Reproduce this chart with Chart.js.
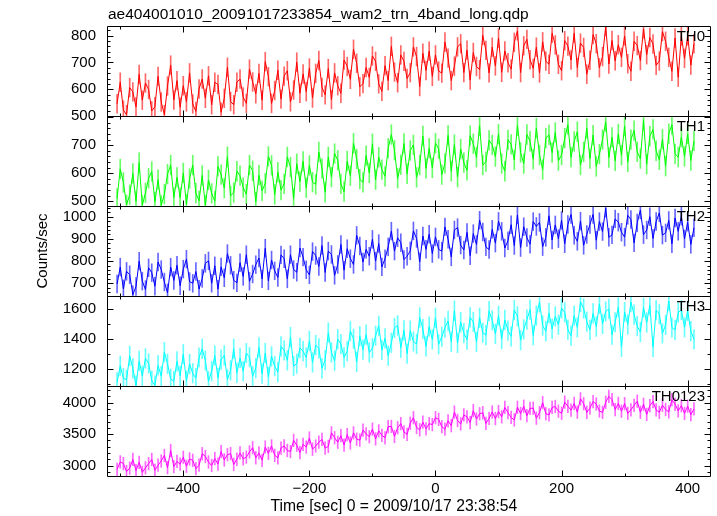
<!DOCTYPE html>
<html>
<head>
<meta charset="utf-8">
<script src="https://cdn.jsdelivr.net/npm/chart.js@4.4.0/dist/chart.umd.min.js"></script>
<style>
  html, body { margin: 0; padding: 0; background: #fff; }
</style>
</head>
<body>
<canvas id="lc" width="717" height="516"></canvas>
<script>
// light curve, 4 bands + sum, 5 s bins
const title = 'ae404001010_20091017233854_wam2_trn_4band_long.qdp';
const xTitle = 'Time [sec] 0 = 2009/10/17 23:38:54';
const yTitle = 'Counts/sec';
const bands = ['TH0', 'TH1', 'TH2', 'TH3', 'TH0123'];
const colors = ['#ff0000', '#00ff00', '#0000ff', '#00ffff', '#ff00ff'];
const barColors = ['rgba(255,0,0,0.6)', 'rgba(0,255,0,0.6)', 'rgba(0,0,255,0.6)', 'rgba(0,255,255,0.6)', 'rgba(255,0,255,0.6)'];
const tStart = -505, tStep = 5;

const th0 = [
  546, 626, 522, 505, 606, 590, 534, 655, 559, 623, 599, 519, 535, 648, 552, 505, 612, 690, 560, 632,
  533, 613, 553, 661, 545, 517, 601, 638, 566, 650, 542, 626, 618, 514, 566, 682, 554, 542, 626, 638,
  571, 547, 675, 627, 583, 659, 559, 703, 647, 547, 595, 671, 563, 649, 669, 553, 597, 701, 585, 657,
  591, 679, 567, 659, 707, 607, 579, 677, 561, 661, 613, 585, 709, 685, 637, 749, 697, 609, 621, 681,
  644, 724, 704, 620, 592, 688, 632, 760, 664, 624, 728, 704, 640, 662, 758, 722, 610, 734, 670, 742,
  648, 728, 668, 660, 776, 716, 632, 686, 758, 770, 662, 746, 634, 737, 685, 673, 801, 745, 661, 757,
  687, 791, 663, 743, 699, 675, 775, 818, 662, 762, 786, 710, 678, 757, 661, 777, 705, 693, 809, 765,
  693, 669, 781, 761, 709, 809, 681, 772, 756, 656, 708, 804, 770, 680, 722, 834, 694, 782, 706, 766,
  719, 799, 695, 667, 779, 763, 707, 825, 729, 793, 769, 689, 705, 815, 779, 719, 667, 791, 645, 799,
  715, 800, 690, 770
];
const th1 = [
  510, 615, 567, 487, 523, 599, 499, 638, 485, 530, 582, 606, 498, 577, 485, 525, 597, 629, 513, 585,
  513, 601, 489, 581, 629, 529, 501, 592, 485, 576, 528, 500, 624, 595, 547, 659, 519, 531, 607, 591,
  549, 525, 629, 609, 497, 593, 537, 564, 660, 628, 524, 604, 540, 562, 658, 622, 510, 634, 570, 642,
  548, 628, 568, 560, 676, 616, 532, 658, 586, 670, 646, 562, 534, 643, 591, 707, 651, 579, 567, 663,
  601, 705, 577, 657, 613, 589, 689, 738, 682, 582, 630, 706, 598, 681, 701, 585, 629, 733, 617, 689,
  619, 707, 687, 595, 635, 735, 607, 702, 586, 686, 638, 610, 734, 705, 657, 769, 629, 641, 717, 701,
  659, 739, 635, 607, 719, 703, 647, 770, 674, 634, 738, 714, 650, 761, 665, 613, 725, 737, 673, 745,
  645, 665, 725, 773, 657, 713, 748, 629, 676, 760, 652, 736, 624, 668, 720, 784, 656, 728, 644, 740,
  664, 768, 640, 720, 752, 676, 652, 788, 632, 732, 756, 680, 648, 721, 625, 741, 773, 669, 657, 729,
  660, 740, 645, 715
];
const th2 = [
  697, 773, 675, 754, 739, 649, 686, 800, 710, 672, 770, 748, 687, 796, 762, 706, 657, 773, 713, 781,
  689, 764, 809, 708, 700, 753, 674, 722, 790, 801, 700, 779, 674, 774, 725, 834, 781, 714, 702, 793,
  731, 829, 709, 742, 784, 814, 720, 858, 711, 805, 756, 726, 828, 811, 720, 829, 762, 750, 859, 818,
  761, 738, 843, 825, 776, 870, 749, 845, 830, 736, 785, 875, 759, 856, 811, 785, 916, 868, 796, 853,
  822, 898, 800, 879, 774, 811, 864, 935, 845, 905, 883, 807, 822, 846, 936, 902, 797, 913, 853, 921,
  834, 909, 853, 845, 954, 898, 819, 940, 951, 872, 850, 929, 824, 924, 875, 984, 931, 864, 852, 943,
  881, 979, 934, 859, 892, 964, 870, 1008, 861, 955, 906, 876, 978, 956, 974, 865, 907, 1004, 895, 963,
  901, 983, 878, 965, 1010, 916, 889, 980, 871, 920, 965, 1010, 894, 978, 933, 1038, 907, 918, 990, 975,
  930, 908, 1006, 987, 882, 972, 1030, 919, 940, 1000, 902, 978, 1017, 917, 927, 983, 878, 994, 934, 1002,
  900, 975, 875, 950
];
const th3 = [
  1113, 1224, 1141, 1130, 1290, 1207, 1091, 1256, 1157, 1273, 1240, 1124, 1092, 1226, 1154, 1314, 1237, 1137, 1121, 1253,
  1157, 1301, 1124, 1235, 1174, 1141, 1279, 1336, 1259, 1121, 1187, 1292, 1143, 1265, 1293, 1133, 1193, 1337, 1177, 1276,
  1188, 1308, 1281, 1154, 1209, 1347, 1171, 1309, 1149, 1287, 1221, 1182, 1353, 1327, 1260, 1415, 1222, 1238, 1343, 1321,
  1279, 1389, 1246, 1362, 1340, 1207, 1262, 1445, 1313, 1258, 1401, 1368, 1280, 1321, 1454, 1404, 1250, 1421, 1332, 1432,
  1313, 1341, 1424, 1490, 1330, 1407, 1291, 1377, 1476, 1493, 1344, 1460, 1305, 1458, 1386, 1369, 1546, 1469, 1353, 1485,
  1400, 1544, 1367, 1417, 1478, 1522, 1384, 1591, 1376, 1514, 1442, 1398, 1547, 1516, 1384, 1544, 1444, 1428, 1588, 1527,
  1437, 1557, 1403, 1530, 1458, 1420, 1596, 1554, 1394, 1466, 1532, 1598, 1427, 1559, 1647, 1492, 1454, 1575, 1470, 1553,
  1497, 1607, 1580, 1464, 1425, 1558, 1480, 1650, 1606, 1518, 1463, 1573, 1485, 1636, 1503, 1586, 1603, 1432, 1514, 1614,
  1350, 1582, 1499, 1648, 1565, 1488, 1449, 1611, 1512, 1628, 1350, 1595, 1568, 1440, 1496, 1656, 1479, 1463, 1579, 1595,
  1480, 1590, 1455, 1400
];
const th0123 = [
  2940, 3060, 3033, 2906, 2961, 3099, 2923, 3054, 2894, 2966, 3032, 3098, 2927, 3007, 3074, 3162, 2969, 3240, 2985, 3068,
  3024, 3134, 2991, 3107, 3085, 2952, 3007, 3190, 3146, 3058, 3003, 3113, 3025, 3224, 3091, 3174, 3191, 3020, 3102, 3202,
  3108, 3136, 3219, 3285, 3125, 3202, 3086, 3296, 3197, 3313, 3164, 3125, 3280, 3313, 3241, 3224, 3401, 3324, 3208, 3340,
  3295, 3439, 3262, 3312, 3373, 3417, 3279, 3306, 3521, 3444, 3372, 3477, 3328, 3493, 3361, 3521, 3421, 3405, 3565, 3504,
  3460, 3580, 3426, 3553, 3481, 3443, 3619, 3624, 3464, 3602, 3668, 3536, 3497, 3674, 3762, 3607, 3569, 3690, 3585, 3668,
  3652, 3762, 3735, 3619, 3580, 3713, 3635, 3850, 3718, 3663, 3806, 3773, 3685, 3874, 3741, 3824, 3841, 3670, 3752, 3852,
  3748, 3859, 3776, 3925, 3842, 3765, 3726, 3926, 3827, 3943, 3794, 3910, 3913, 3755, 3841, 4001, 3824, 3808, 3924, 3940,
  3865, 3832, 4009, 3943, 3882, 3987, 3849, 4061, 3984, 3846, 3912, 4017, 3978, 3868, 3846, 4006, 4100, 4050, 3890, 3989,
  3865, 3985, 3831, 3886, 3958, 4024, 3848, 3974, 3814, 3952, 4018, 3886, 3847, 3959, 3892, 3854, 4047, 3975, 3870, 3953,
  3830, 3945, 3810, 3900
];
// 1-sigma error per bin, one value per band
const errs = [35, 35, 40, 65, 100];

// panel axes
const yMin = [500, 483, 643, 1089, 2836];
const yMax = [836, 804, 1048, 1689, 4265];
const yLabels = [[500, 600, 700, 800], [500, 600, 700], [700, 800, 900, 1000], [1200, 1400, 1600], [3000, 3500, 4000]];
const yMajor = [100, 100, 100, 200, 500];
const yMinor = [20, 20, 20, 100, 100];
const xMin = -521, xMax = 437;
const xLabels = [-400, -200, 0, 200, 400];
const xMajor = 200, xMinor = 100;

const FONT = "'Liberation Sans', Arial, Helvetica, sans-serif";
Chart.defaults.font.family = FONT;
Chart.defaults.font.size = 15;
Chart.defaults.color = '#000';

const series = [th0, th1, th2, th3, th0123];
const ids = bands.map((b, i) => 'y' + i);

const scales = {
  x: {
    type: 'linear', position: 'bottom', min: xMin, max: xMax, offset: false,
    grid: { display: false, drawTicks: false, offset: false },
    border: { display: false },
    afterBuildTicks: s => { s.ticks = xLabels.map(v => ({ value: v })); },
    ticks: { padding: 4, maxRotation: 0, autoSkip: false,
             callback: v => String(v).replace('-', '\u2212') },
    title: { display: false },
    afterFit: s => { s.height = 40; }
  }
};
// last one defined ends up on top of the stack
for (let i = bands.length - 1; i >= 0; i--) {
  const labels = yLabels[i];
  scales[ids[i]] = {
    type: 'linear', position: 'left', stack: 'panels', stackWeight: 1,
    min: yMin[i], max: yMax[i],
    grid: { display: false, drawTicks: false },
    border: { display: false },
    afterBuildTicks: s => { s.ticks = labels.map(v => ({ value: v })); },
    ticks: { padding: 11, autoSkip: false, callback: v => String(v) },
    title: { display: i === 2, text: yTitle, padding: { top: 34, bottom: 0 } },
    afterFit: s => { s.width = 107; }
  };
}

const panelFrames = {
  id: 'panelFrames',
  afterDatasetsDraw(chart) {
    const { ctx, chartArea: a, scales: sc } = chart;
    const xs = sc.x;
    const L = Math.round(a.left) + 0.5, R = Math.round(a.right) - 0.5;
    ctx.save();
    ctx.strokeStyle = '#000';
    ctx.lineWidth = 1;
    ctx.fillStyle = '#000';
    ctx.font = '15px ' + FONT;
    ids.forEach((id, i) => {
      const s = sc[id];
      const T = Math.round(s.top) + 0.5, B = Math.round(s.bottom) + 0.5;
      ctx.beginPath();
      ctx.rect(L, T, R - L, B - T);
      for (let v = Math.ceil(yMin[i] / yMinor[i]) * yMinor[i]; v <= yMax[i]; v += yMinor[i]) {
        const y = Math.round(s.getPixelForValue(v)) + 0.5;
        const len = v % yMajor[i] === 0 ? 6 : 3;
        ctx.moveTo(L, y); ctx.lineTo(L + len, y);
        ctx.moveTo(R, y); ctx.lineTo(R - len, y);
      }
      for (let v = Math.ceil(xMin / xMinor) * xMinor; v <= xMax; v += xMinor) {
        const x = Math.round(xs.getPixelForValue(v)) + 0.5;
        const len = v % xMajor === 0 ? 6 : 3;
        ctx.moveTo(x, T); ctx.lineTo(x, T + len);
        ctx.moveTo(x, B); ctx.lineTo(x, B - len);
      }
      ctx.stroke();
      ctx.textAlign = 'right';
      ctx.textBaseline = 'middle';
      ctx.fillText(bands[i], a.right - 6, s.top + 11);
    });
    // plot title and x-axis caption
    ctx.font = '15.5px ' + FONT;
    ctx.textAlign = 'left';
    ctx.textBaseline = 'alphabetic';
    ctx.fillText(title, a.left + 1, 19);
    ctx.font = '15.7px ' + FONT;
    ctx.textAlign = 'center';
    ctx.textBaseline = 'middle';
    ctx.fillText(xTitle, a.left + (a.right - a.left) * 0.475, 507);
    ctx.restore();
  }
};

const datasets = [];
series.forEach((arr, i) => {
  const times = arr.map((v, k) => tStart + k * tStep);
  datasets.push({
    type: 'line',
    label: bands[i],
    data: arr.map((v, k) => ({ x: times[k], y: v })),
    yAxisID: ids[i],
    borderColor: colors[i],
    borderWidth: 1,
    pointRadius: 0,
    tension: 0,
    fill: false,
    order: 1
  });
  // error bars as thin floating bars
  datasets.push({
    type: 'bar',
    label: bands[i] + ' err',
    data: arr.map((v, k) => ({ x: times[k], y: [v - errs[i], v + errs[i]] })),
    yAxisID: ids[i],
    backgroundColor: barColors[i],
    borderWidth: 0,
    barThickness: 1,
    grouped: false,
    order: 2
  });
});

new Chart(document.getElementById('lc'), {
  type: 'line',
  data: { datasets },
  options: {
    responsive: false,
    animation: false,
    devicePixelRatio: 1,
    layout: { padding: { top: 26, right: 6, left: 0, bottom: 0 } },
    plugins: { legend: { display: false }, tooltip: { enabled: false }, title: { display: false } },
    scales
  },
  plugins: [panelFrames]
});
</script>
</body>
</html>
